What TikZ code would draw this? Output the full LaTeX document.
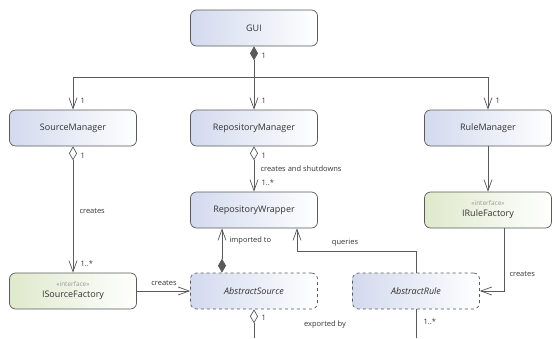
\documentclass[tikz,border=0pt]{standalone}
\usepackage{fontspec}
\setmainfont{Open Sans}
\usetikzlibrary{arrows.meta}
\definecolor{umlline}{HTML}{5A5A5A}
\definecolor{umlblue}{HTML}{D3DAEE}
\definecolor{umlgreen}{HTML}{DFE9CC}
\definecolor{umltext}{HTML}{333333}
\tikzset{
  classbox/.style={draw=umlline, line width=0.7pt, rounded corners=6pt,
    left color=umlblue, right color=white, minimum width=127pt,
    minimum height=36pt, text=umltext, font=\fontsize{9}{11}\selectfont},
  ifacebox/.style={classbox, left color=umlgreen, align=center},
  absbox/.style={classbox, dashed, font=\fontsize{9}{11}\selectfont\itshape},
  lbl/.style={font=\fontsize{7.5}{9}\selectfont, text=umltext},
  link/.style={draw=umlline, line width=0.7pt},
  assoc/.style={link, -{Straight Barb[length=11pt,width=8pt]}},
  compo/.style={link, {Diamond[length=14pt,width=8pt,fill=umlline]}-{Straight Barb[length=11pt,width=8pt]}},
  aggr/.style={link, {Diamond[open,length=14pt,width=8pt,fill=white]}-{Straight Barb[length=11pt,width=8pt]}},
}
\newcommand{\stereotype}[1]{{\fontsize{6.5}{8}\selectfont\color{gray!80}«#1»}}
\begin{document}
\begin{tikzpicture}[x=1pt,y=-1pt]
    \useasboundingbox (0,0) rectangle (557,338);
    % classes
    \node[classbox] (gui) at (254,28) {GUI};
    \node[classbox] (srcm) at (73,128) {SourceManager};
    \node[classbox] (repm) at (254,128) {RepositoryManager};
    \node[classbox] (rulem) at (488,128) {RuleManager};
    \node[classbox] (repw) at (254,210) {RepositoryWrapper};
    \node[ifacebox] (irf) at (488,210) {\stereotype{interface}\\IRuleFactory};
    \node[ifacebox] (isf) at (73,291) {\stereotype{interface}\\ISourceFactory};
    \node[absbox] (asrc) at (254,291) {AbstractSource};
    \node[absbox] (arule) at (416,291) {AbstractRule};
    \coordinate (split) at (254,77);
    \coordinate (qbend) at (416,251);
    \coordinate (asrcend) at (254,338);
    \coordinate (aruleend) at (416,338);
    % GUI owns the managers
    \draw[compo] (gui.south) -- (repm.north);
    \draw[assoc] (split) -| (srcm.north);
    \draw[assoc] (split) -| (rulem.north);
    \node[lbl, anchor=west] at (258,56) {1};
    \node[lbl, anchor=west] at (77,101) {1};
    \node[lbl, anchor=west] at (258,101) {1};
    \node[lbl, anchor=west] at (492,101) {1};
    % managers
    \draw[aggr] (srcm.south) -- (isf.north);
    \node[lbl, anchor=west] at (77,156) {1};
    \node[lbl, anchor=west] at (76,211) {creates};
    \node[lbl, anchor=west] at (77,264) {1..*};
    \draw[aggr] (repm.south) -- (repw.north);
    \node[lbl, anchor=west] at (258,156) {1};
    \node[lbl, anchor=west] at (257,169) {creates and shutdowns};
    \node[lbl, anchor=west] at (258,183) {1..*};
    \draw[assoc] (rulem.south) -- (irf.north);
    % factories and sources
    \draw[assoc] (isf.east) -- (asrc.west);
    \node[lbl] at (164,283) {creates};
    \draw[assoc] ([xshift=16pt]irf.south) |- (arule.east);
    \node[lbl, anchor=west] at (506,274) {creates};
    \draw[compo] ([xshift=-32pt]asrc.north) -- ([xshift=-32pt]repw.south);
    \node[lbl, anchor=west] at (226,241) {imported to};
    \draw[assoc] (arule.north) -- (qbend) -| ([xshift=43pt]repw.south);
    \node[lbl] at (345,243) {queries};
    \draw[link, {Diamond[open,length=14pt,width=8pt,fill=white]}-] (asrc.south) -- (asrcend);
    \node[lbl, anchor=west] at (258,318) {1};
    \node[lbl] at (325,325) {exported by};
    \draw[link] (arule.south) -- (aruleend);
    \node[lbl, anchor=west] at (420,322) {1..*};
\end{tikzpicture}
\end{document}
